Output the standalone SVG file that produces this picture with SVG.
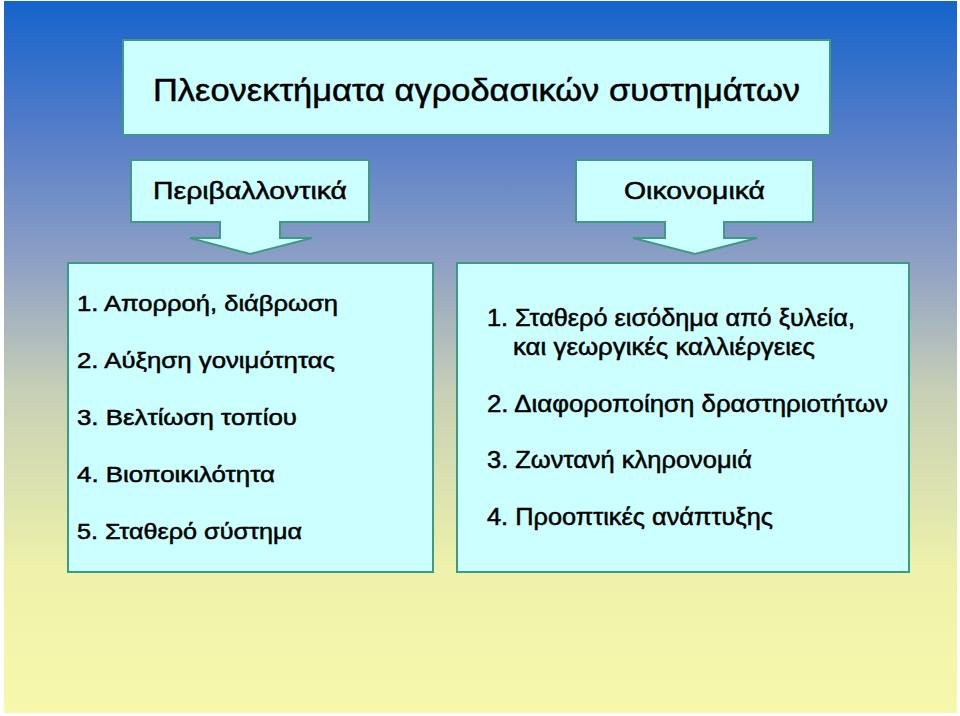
<svg xmlns="http://www.w3.org/2000/svg" width="960" height="716" viewBox="0 0 960 716">
<defs>
<linearGradient id="bg" x1="0" y1="0" x2="0" y2="1">
<stop offset="0" stop-color="#1563cb"/>
<stop offset="0.2" stop-color="#5a80c8"/>
<stop offset="0.37" stop-color="#8fa1c4"/>
<stop offset="0.55" stop-color="#c8d0b6"/>
<stop offset="0.8" stop-color="#eef2aa"/>
<stop offset="1" stop-color="#f6f8ac"/>
</linearGradient>
</defs>
<style>
.box{fill:#ccffff;stroke:#3f9a82;stroke-width:2}
text{font-family:"Liberation Sans",Arial,Helvetica,sans-serif;fill:#000;stroke:#000;stroke-width:0.5}
.title{font-size:32px}
.head{font-size:24px}
.li{font-size:22px}
.ri{font-size:23px}
</style>
<rect x="0" y="0" width="960" height="716" fill="#ffffff"/>
<rect x="4" y="1" width="953" height="712" fill="url(#bg)"/>
<g id="title">
<rect class="box" x="123" y="40" width="707" height="95"/>
<text class="title" x="153" y="101" textLength="647" lengthAdjust="spacingAndGlyphs">Πλεονεκτήματα αγροδασικών συστημάτων</text>
</g>
<g id="env">
<path class="box" d="M131,160 H369 V222 H280 V238 H312 L250,254 L190,238 H220 V222 H131 Z"/>
<text class="head" x="153" y="199" textLength="194" lengthAdjust="spacingAndGlyphs">Περιβαλλοντικά</text>
</g>
<g id="econ">
<path class="box" d="M576,160 H813 V222 H724 V238 H757 L695,254 L633,238 H665 V222 H576 Z"/>
<text class="head" x="624" y="199" textLength="141" lengthAdjust="spacingAndGlyphs">Οικονομικά</text>
</g>
<g id="env-list">
<rect class="box" x="68" y="263" width="365" height="309"/>
<text class="li" x="77" y="311" textLength="261" lengthAdjust="spacingAndGlyphs">1. Απορροή, διάβρωση</text>
<text class="li" x="77" y="368" textLength="258" lengthAdjust="spacingAndGlyphs">2. Αύξηση γονιμότητας</text>
<text class="li" x="77" y="425" textLength="220" lengthAdjust="spacingAndGlyphs">3. Βελτίωση τοπίου</text>
<text class="li" x="77" y="482" textLength="198" lengthAdjust="spacingAndGlyphs">4. Βιοποικιλότητα</text>
<text class="li" x="77" y="539" textLength="225" lengthAdjust="spacingAndGlyphs">5. Σταθερό σύστημα</text>
</g>
<g id="econ-list">
<rect class="box" x="457" y="263" width="452" height="309"/>
<text class="ri" x="487" y="326" textLength="368" lengthAdjust="spacingAndGlyphs">1. Σταθερό εισόδημα από ξυλεία,</text>
<text class="ri" x="513" y="355" textLength="302" lengthAdjust="spacingAndGlyphs">και γεωργικές καλλιέργειες</text>
<text class="ri" x="487" y="412" textLength="401" lengthAdjust="spacingAndGlyphs">2. Διαφοροποίηση δραστηριοτήτων</text>
<text class="ri" x="487" y="468" textLength="265" lengthAdjust="spacingAndGlyphs">3. Ζωντανή κληρονομιά</text>
<text class="ri" x="487" y="525" textLength="286" lengthAdjust="spacingAndGlyphs">4. Προοπτικές ανάπτυξης</text>
</g>
<g id="connectors"/>
</svg>
